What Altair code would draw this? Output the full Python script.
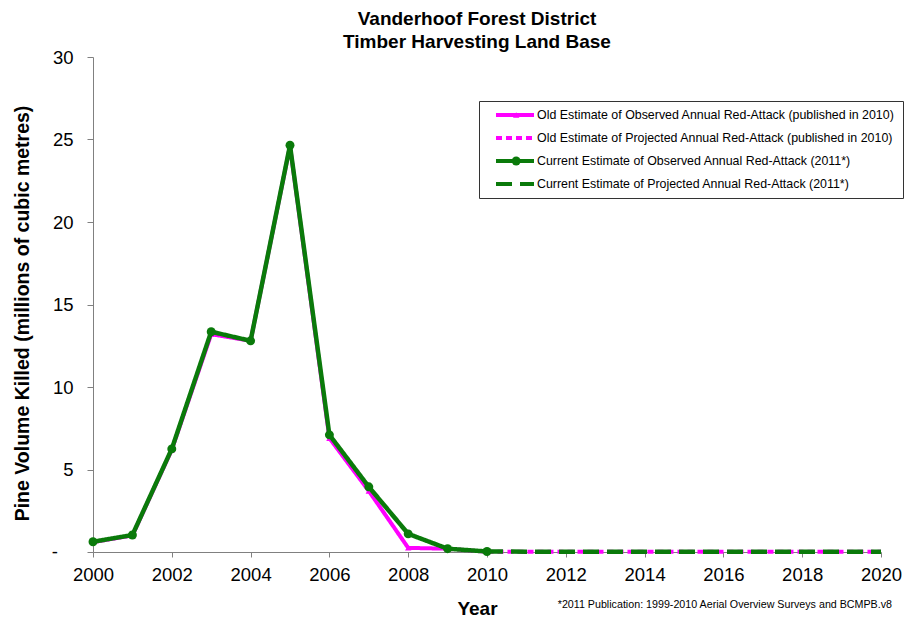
import altair as alt
import pandas as pd

# ---- data ----
years_old_obs = [2000, 2001, 2002, 2003, 2004, 2005, 2006, 2007, 2008, 2009]
old_obs = [0.60, 1.00, 6.20, 13.20, 12.80, 24.60, 6.90, 3.70, 0.25, 0.20]

years_old_proj = [2009, 2010, 2011, 2012, 2013, 2014, 2015, 2016, 2017, 2018, 2019, 2020]
old_proj = [0.20, 0.02, 0.02, 0.02, 0.02, 0.02, 0.02, 0.02, 0.02, 0.02, 0.02, 0.02]

years_cur_obs = [2000, 2001, 2002, 2003, 2004, 2005, 2006, 2007, 2008, 2009, 2010]
cur_obs = [0.62, 1.03, 6.25, 13.35, 12.80, 24.65, 7.10, 3.95, 1.10, 0.20, 0.03]

years_cur_proj = [2010, 2011, 2012, 2013, 2014, 2015, 2016, 2017, 2018, 2019, 2020]
cur_proj = [0.03, 0.02, 0.02, 0.02, 0.02, 0.02, 0.02, 0.02, 0.02, 0.02, 0.02]

series_names = [
    "Old Estimate of Observed Annual Red-Attack (published  in 2010)",
    "Old Estimate of Projected Annual Red-Attack (published  in 2010)",
    "Current Estimate of Observed Annual Red-Attack (2011*)",
    "Current Estimate of Projected Annual Red-Attack (2011*)",
]
series_colors = ["#FF00FF", "#FF00FF", "#0A7A0A", "#0A7A0A"]
series_dashes = [[1, 0], [6, 4], [1, 0], [16, 8]]
marker_codes = ["m1", "m2", "m3", "m4"]
marker_shapes = ["triangle-up", "circle", "circle", "circle"]
marker_sizes = [40, 0, 80, 0]

title_lines = ["Vanderhoof Forest District", "Timber Harvesting Land Base"]
y_title = "Pine Volume Killed (millions of cubic metres)"
x_title = "Year"
footnote = "*2011 Publication: 1999-2010  Aerial Overview Surveys and BCMPB.v8"

x_ticks = list(range(2000, 2021, 2))
y_ticks = [0, 5, 10, 15, 20, 25, 30]
zero_label = ["-"]

# ---- build table ----
rows = []
for yrs, vals, name, code in [
    (years_old_obs, old_obs, series_names[0], marker_codes[0]),
    (years_old_proj, old_proj, series_names[1], marker_codes[1]),
    (years_cur_obs, cur_obs, series_names[2], marker_codes[2]),
    (years_cur_proj, cur_proj, series_names[3], marker_codes[3]),
]:
    for yr, v in zip(yrs, vals):
        rows.append({"year": yr, "value": v, "series": name, "marker": code})
df = pd.DataFrame(rows)

FONT = "Liberation Sans"

x_enc = alt.X(
    "year:Q",
    scale=alt.Scale(domain=[2000, 2020], nice=False, zero=False),
    axis=alt.Axis(
        values=x_ticks, format="d", grid=False, title=x_title,
        titleX=384, titleY=62, titleBaseline="alphabetic", titleAlign="center",
        titleFont=FONT, titleFontSize=19, titleFontWeight="bold", titleColor="black",
        labelFont=FONT, labelFontSize=18.5, labelColor="black", labelPadding=8,
        tickSize=5, tickColor="#808080", domainColor="#808080", labelFlush=False,
    ),
)
y_enc = alt.Y(
    "value:Q",
    scale=alt.Scale(domain=[0, 30], nice=False),
    axis=alt.Axis(
        values=y_ticks, grid=False, title=y_title,
        labelExpr="datum.value == 0 ? '' : datum.label",
        titleX=-65, titleY=256, titleAngle=270, titleBaseline="alphabetic", titleAlign="center",
        titleFont=FONT, titleFontSize=19.5, titleFontWeight="bold", titleColor="black",
        labelFont=FONT, labelFontSize=18.5, labelColor="black", labelPadding=14,
        tickSize=6, tickColor="#808080", domainColor="#808080",
    ),
)

line_legend = alt.Legend(
    title=None, orient="none", legendX=386, legendY=44,
    symbolType="stroke", symbolSize=1444, symbolStrokeWidth=4,
    symbolOffset=10, clipHeight=18, rowPadding=5, padding=5,
    labelFont=FONT, labelFontSize=12.4, labelColor="black", labelLimit=500,
    labelOffset=1, strokeColor="#333333",
)
color_enc = alt.Color(
    "series:N", scale=alt.Scale(domain=series_names, range=series_colors), legend=line_legend
)
dash_enc = alt.StrokeDash(
    "series:N", scale=alt.Scale(domain=series_names, range=series_dashes), legend=line_legend
)

marker_legend = alt.Legend(
    title=None, orient="none", legendX=386, legendY=44,
    symbolOffset=26, clipHeight=18, rowPadding=5, padding=5, symbolStrokeWidth=0,
    labelExpr="''", labelFontSize=12.4, labelOffset=0,
)
shape_enc = alt.Shape(
    "marker:N", scale=alt.Scale(domain=marker_codes, range=marker_shapes), legend=marker_legend
)
fill_enc = alt.Fill(
    "marker:N", scale=alt.Scale(domain=marker_codes, range=series_colors), legend=marker_legend
)
size_enc = alt.Size(
    "marker:N",
    scale=alt.Scale(type="ordinal", domain=marker_codes, range=marker_sizes),
    legend=marker_legend,
)

base = alt.Chart(df)

old_lines = base.transform_filter(
    alt.FieldOneOfPredicate(field="series", oneOf=series_names[:2])
).mark_line(strokeWidth=4).encode(x=x_enc, y=y_enc, color=color_enc, strokeDash=dash_enc)

old_pts = base.transform_filter(
    alt.FieldEqualPredicate(field="series", equal=series_names[0])
).mark_point(filled=True, opacity=1, strokeWidth=0).encode(
    x="year:Q", y="value:Q", shape=shape_enc, fill=fill_enc, size=size_enc
)

cur_lines = base.transform_filter(
    alt.FieldOneOfPredicate(field="series", oneOf=series_names[2:])
).mark_line(strokeWidth=4.5).encode(x=x_enc, y=y_enc, color=color_enc, strokeDash=dash_enc)

cur_pts = base.transform_filter(
    alt.FieldEqualPredicate(field="series", equal=series_names[2])
).mark_point(filled=True, opacity=1, strokeWidth=0).encode(
    x="year:Q", y="value:Q", shape=shape_enc, fill=fill_enc, size=size_enc
)

zero_tick = alt.Chart(pd.DataFrame({"lab": zero_label, "value": [0]})).mark_text(
    font=FONT, fontSize=18.5, color="black", align="right", baseline="middle"
).encode(text="lab:N", y=alt.Y("value:Q"), x=alt.value(-35))

note = alt.Chart(pd.DataFrame({"note": [footnote]})).mark_text(
    font=FONT, fontSize=10.7, color="black", align="right", baseline="alphabetic"
).encode(text="note:N", x=alt.value(799), y=alt.value(551))

chart = alt.layer(old_lines, old_pts, cur_lines, cur_pts, zero_tick, note).properties(
    width=788,
    height=495,
    padding={"left": 85, "top": 49, "right": 25, "bottom": 66},
    autosize=alt.AutoSizeParams(type="none"),
    background="white",
    title=alt.TitleParams(
        text=title_lines, font=FONT, fontSize=19, fontWeight="bold", color="black",
        anchor="middle", dx=-10, offset=-4, lineHeight=23,
    ),
).configure_view(stroke=None)

chart.save("out.html", embed_options={"renderer": "svg", "actions": False})
